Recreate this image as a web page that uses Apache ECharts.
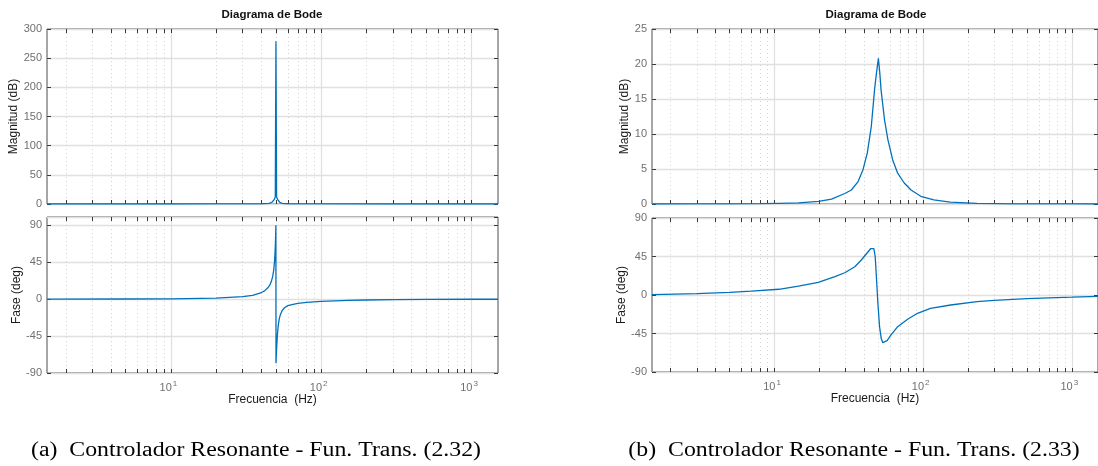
<!DOCTYPE html>
<html>
<head>
<meta charset="utf-8">
<script src="https://cdn.jsdelivr.net/npm/echarts@6/dist/echarts.min.js"></script>
<style>html,body{margin:0;padding:0;background:#fff}#c{width:1098px;height:466px}</style>
</head>
<body>
<div id="c"></div>
<script>
// ---- Data ----
// (a) left: magnitude (dB) and phase (deg) vs frequency (Hz)
const freqMagA  = [1.5, 5, 10, 20, 30, 40, 45, 47, 48.5, 49.5, 50, 50.5, 51.5, 53, 55, 60, 80, 100, 300, 1000, 1500];
const magA      = [0, 0, 0, 0.05, 0.1, 0.4, 1, 3, 7, 12, 279, 12, 7, 3, 1, 0.4, 0.1, 0.05, 0, 0, 0];
const freqPhA   = [1.5, 5, 10, 20, 30, 35, 40, 42, 44, 45.5, 46.5, 47.5, 48.3, 48.9, 49.3, 49.6, 49.8, 49.95, 50.05, 50.3, 50.7, 51.2, 51.8, 52.6, 53.5, 55, 57, 60, 65, 70, 80, 100, 150, 200, 300, 500, 1000, 1500];
const phaseA    = [0.05, 0.15, 0.4, 1.2, 3, 4.5, 8, 10, 13.5, 17, 21, 27, 35, 45, 56, 68, 80, 90, -78, -68, -55, -42, -32, -24, -19, -14, -10.5, -8, -6.3, -5.2, -4, -2.8, -1.6, -1.1, -0.7, -0.4, -0.2, -0.15];
// (b) right
const freqMagB  = [1.5, 3, 5, 8, 10.7, 14.5, 19.8, 24.2, 29.7, 32.9, 36.5, 39.4, 42.1, 44.8, 47.1, 48.5, 50, 51.1, 52.1, 55, 57.9, 62.4, 67.4, 74.6, 82.9, 96.3, 118, 152, 230, 400, 700, 1000, 1500];
const magB      = [0, 0.01, 0.03, 0.06, 0.1, 0.15, 0.37, 0.7, 1.5, 2.0, 3.2, 4.9, 7.3, 11.1, 16.3, 18.7, 20.8, 18.7, 16.3, 12.0, 9.2, 6.3, 4.4, 3.0, 2.0, 1.1, 0.6, 0.28, 0.08, 0.03, 0.01, 0.01, 0];
const freqPhB   = [1.5, 3, 5, 7, 10.7, 14.5, 19.7, 25.5, 29.7, 34.7, 38.4, 41.4, 44.3, 45.4, 46.6, 47.6, 48.6, 49.6, 50.9, 52.2, 53.5, 55, 57.2, 60.8, 67.4, 78.6, 91.6, 112, 153, 230, 300, 500, 700, 1000, 1500];
const phaseB    = [0.4, 1.5, 3.1, 4.6, 6.7, 10.5, 14.8, 21.4, 26, 33, 40.9, 47.9, 54.1, 55.7, 54.1, 44.7, 17.5, -9.7, -37, -50.6, -55.7, -56.4, -53.4, -46.7, -37, -28.4, -21.4, -15.6, -11.7, -7.8, -6.3, -4.3, -3.4, -2.6, -1.6];

// ticks / labels
const xMajor = [10, 100, 1000];
const xMinor = [2, 3, 4, 5, 6, 7, 8, 9, 20, 30, 40, 50, 60, 70, 80, 90, 200, 300, 400, 500, 600, 700, 800, 900];
const xAll = xMinor.concat(xMajor);
const xRange = [1.5, 1500];
const magAxisA = {min: 0, max: 300, interval: 50};
const magAxisB = {min: 0, max: 25, interval: 5};
const phaseAxisA = {min: -90, max: 100, interval: 45};
const phaseAxisB = {min: -90, max: 90, interval: 45};
const titleText = 'Diagrama de Bode';
const magName = 'Magnitud (dB)';
const phaseName = 'Fase (deg)';
const freqName = 'Frecuencia  (Hz)';
const captions = ['(a)  Controlador Resonante - Fun. Trans. (2.32)', '(b)  Controlador Resonante - Fun. Trans. (2.33)'];

// ---- Layout ----
const FONT = 'Liberation Sans';
const LBL = '#6f6f6f';
const BOX = '#4d4d4d';
const grids = [
  {left: 47, top: 29, width: 451, height: 175},   // a mag
  {left: 47, top: 217, width: 451, height: 156},  // a phase
  {left: 652, top: 29, width: 450, height: 175},  // b mag
  {left: 652, top: 218, width: 450, height: 154}  // b phase
];
const panels = [
  {f: freqMagA, v: magA, y: magAxisA, name: magName, gap: 27, bottom: false},
  {f: freqPhA, v: phaseA, y: phaseAxisA, name: phaseName, gap: 24, bottom: true},
  {f: freqMagB, v: magB, y: magAxisB, name: magName, gap: 21, bottom: false},
  {f: freqPhB, v: phaseB, y: phaseAxisB, name: phaseName, gap: 22, bottom: true}
];

const xAxes = [], yAxes = [], series = [];
panels.forEach((p, g) => {
  const base = {type: 'log', logBase: 10, min: xRange[0], max: xRange[1], gridIndex: g, axisLine: {show: false, onZero: false}};
  // bottom axis with all ticks + dotted minor grid + labels
  xAxes.push(Object.assign({}, base, {
    position: 'bottom',
    axisTick: {show: true, inside: true, length: 4, customValues: xAll, lineStyle: {color: '#3a3a3a', width: 1}},
    splitLine: {show: true, lineStyle: {color: '#d4d4d4', type: [1, 3], width: 1}},
    axisLabel: {show: p.bottom, customValues: xMajor, margin: 7, color: LBL, fontFamily: FONT, padding: [0, 5, 0, 0],
      formatter: v => '{b|10}{s|' + Math.round(Math.log10(v)) + '}',
      rich: {b: {fontSize: 11, color: LBL, fontFamily: FONT}, s: {fontSize: 8, color: LBL, fontFamily: FONT, padding: [0, 0, 7, 1]}}},
    name: p.bottom ? freqName : '', nameLocation: 'middle', nameGap: 18,
    nameTextStyle: {fontSize: 12, color: '#1a1a1a', fontFamily: FONT}
  }));
  // top axis: ticks only
  xAxes.push(Object.assign({}, base, {
    position: 'top',
    axisTick: {show: true, inside: true, length: 4, customValues: xAll, lineStyle: {color: '#3a3a3a', width: 1}},
    splitLine: {show: false}, axisLabel: {show: false}
  }));
  // major solid grid
  xAxes.push(Object.assign({}, base, {
    position: 'bottom',
    axisTick: {show: false, customValues: xMajor},
    splitLine: {show: true, lineStyle: {color: '#e0e0e0', width: 1.3}},
    axisLabel: {show: false}
  }));
  yAxes.push({
    type: 'value', gridIndex: g, position: 'left', min: p.y.min, max: p.y.max, interval: p.y.interval,
    axisLine: {show: false, onZero: false},
    axisTick: {show: true, inside: true, length: 4, lineStyle: {color: '#3a3a3a'}},
    splitLine: {show: true, lineStyle: {color: '#e0e0e0', width: 1.3}},
    axisLabel: {color: LBL, fontSize: 11, fontFamily: FONT, margin: 5, showMaxLabel: p.y.max % p.y.interval === 0},
    name: p.name, nameLocation: 'middle', nameRotate: 90, nameGap: p.gap,
    nameTextStyle: {fontSize: 12, color: '#1a1a1a', fontFamily: FONT}
  });
  yAxes.push({
    type: 'value', gridIndex: g, position: 'right', min: p.y.min, max: p.y.max, interval: p.y.interval,
    axisLine: {show: false, onZero: false},
    axisTick: {show: true, inside: true, length: 4, lineStyle: {color: '#3a3a3a'}},
    splitLine: {show: false}, axisLabel: {show: false}
  });
  series.push({
    type: 'line', xAxisIndex: 3 * g, yAxisIndex: 2 * g,
    data: p.f.map((f, i) => [f, p.v[i]]),
    showSymbol: false, symbol: 'none', clip: true, animation: false,
    lineStyle: {color: '#0072BD', width: 1.3}
  });
});

const chart = echarts.init(document.getElementById('c'), null, {renderer: 'canvas'});
chart.setOption({
  animation: false,
  backgroundColor: '#ffffff',
  grid: grids.map(g => Object.assign({show: true, borderColor: BOX, borderWidth: 1, backgroundColor: 'transparent', containLabel: false}, g)),
  xAxis: xAxes,
  yAxis: yAxes,
  series: series,
  graphic: [
    {type: 'text', x: 272, y: 15, style: {text: titleText, font: 'bold 11.5px ' + FONT, fill: '#111', align: 'center', verticalAlign: 'middle'}},
    {type: 'text', x: 876, y: 15, style: {text: titleText, font: 'bold 11.5px ' + FONT, fill: '#111', align: 'center', verticalAlign: 'middle'}},
    {type: 'text', x: 256, y: 451, scaleX: 1.19, style: {text: captions[0], font: '20px "Liberation Serif"', fill: '#000', align: 'center', verticalAlign: 'middle'}},
    {type: 'text', x: 854, y: 451, scaleX: 1.19, style: {text: captions[1], font: '20px "Liberation Serif"', fill: '#000', align: 'center', verticalAlign: 'middle'}}
  ]
});
</script>
</body>
</html>
